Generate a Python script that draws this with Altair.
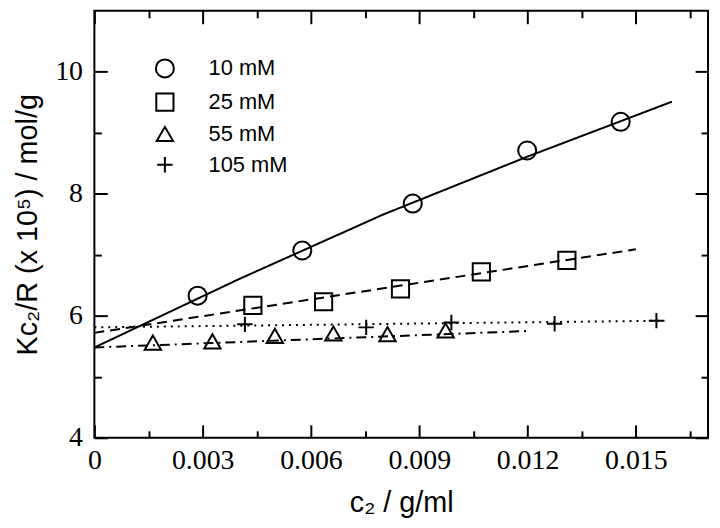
import altair as alt
import pandas as pd

# ---------------- data ----------------
series_names = ["10 mM", "25 mM", "55 mM", "105 mM"]
fit_names = ["fit 10 mM", "fit 25 mM", "fit 55 mM", "fit 105 mM"]

x_10 = [0.00286, 0.00576, 0.00882, 0.01199, 0.01458]
y_10 = [6.33, 7.07, 7.84, 8.71, 9.18]

x_25 = [0.00439, 0.00635, 0.00848, 0.01072, 0.01309]
y_25 = [6.17, 6.23, 6.44, 6.72, 6.91]

x_55 = [0.00162, 0.00327, 0.00500, 0.00662, 0.00812, 0.00973]
y_55 = [5.56, 5.58, 5.67, 5.71, 5.70, 5.76]

x_105 = [0.00417, 0.00753, 0.00989, 0.01275, 0.01557]
y_105 = [5.86, 5.81, 5.89, 5.87, 5.92]

# fitted lines (vertices)
fit_x_10 = [0.0, 0.004, 0.008, 0.012, 0.016]
fit_y_10 = [5.48, 6.60, 7.66, 8.61, 9.51]
fit_x_25 = [0.0, 0.015]
fit_y_25 = [5.72, 7.09]
fit_x_55 = [0.0, 0.012]
fit_y_55 = [5.48, 5.75]
fit_x_105 = [0.0, 0.0158]
fit_y_105 = [5.81, 5.92]

x_major = [0, 0.003, 0.006, 0.009, 0.012, 0.015]
x_minor = [0.0015, 0.0045, 0.0075, 0.0105, 0.0135, 0.0165]
y_major = [4, 6, 8, 10]
y_minor = [5, 7, 9]

x_domain = [0, 0.017]
y_domain = [4, 11]

# ---------------- tables ----------------
pts_rows = []
for name, xs, ys in zip(series_names, [x_10, x_25, x_55, x_105], [y_10, y_25, y_55, y_105]):
    for a, b in zip(xs, ys):
        pts_rows.append({"series": name, "c2": a, "kcr": b})
pts = pd.DataFrame(pts_rows)

fit_rows = []
for name, xs, ys in zip(fit_names,
                        [fit_x_10, fit_x_25, fit_x_55, fit_x_105],
                        [fit_y_10, fit_y_25, fit_y_55, fit_y_105]):
    for a, b in zip(xs, ys):
        fit_rows.append({"fit": name, "c2": a, "kcr": b})
fits = pd.DataFrame(fit_rows)

SERIF = "Liberation Serif"
SANS = "Liberation Sans"

xscale = alt.Scale(domain=x_domain, nice=False, zero=False)
yscale = alt.Scale(domain=y_domain, nice=False, zero=False)


def make_axis(orient, values, size, labels=False, **kw):
    d = dict(orient=orient, values=values, tickSize=size, offset=-size,
             domain=False, grid=False, ticks=True, tickWidth=2,
             tickColor="black", labels=labels, labelFlush=False,
             labelOverlap=False)
    if labels:
        d.update(labelFont=SERIF, labelFontSize=28, labelColor="black")
    d.update(kw)
    return alt.Axis(**d)


ax_bottom = make_axis("bottom", x_major, 13, labels=True, labelPadding=9,
                      labelExpr="datum.value == 0 ? '0' : format(datum.value, '.3f')",
                      titleFont=SANS, titleFontSize=29, titleFontWeight="normal",
                      titleColor="black", titlePadding=14)
ax_left = make_axis("left", y_major, 13, labels=True, labelPadding=12,
                    titleFont=SANS, titleFontSize=29, titleFontWeight="normal",
                    titleColor="black", titlePadding=12)
ax_top = make_axis("top", x_major, 13)
ax_right = make_axis("right", y_major, 13)
ax_bottom_minor = make_axis("bottom", x_minor, 7)
ax_left_minor = make_axis("left", y_minor, 7)
ax_top_minor = make_axis("top", x_minor, 7)
ax_right_minor = make_axis("right", y_minor, 7)

shape_range = ["circle", "square", "triangle-up", "M-1,0H1M0,-1V1"]
size_range = [330, 240, 360, 280]
dash_range = [[1, 0], [10, 6], [10, 5, 2, 5], [2, 5]]

legend_opts = dict(orient="none", legendX=60, legendY=47, title=None,
                   labelFont=SANS, labelFontSize=22, labelColor="black",
                   labelOffset=33, symbolStrokeWidth=2,
                   symbolStrokeColor="black", symbolFillColor="transparent",
                   rowPadding=7, padding=0)

points = alt.Chart(pts).mark_point(filled=False, strokeWidth=2, color="black",
                                   opacity=1).encode(
    x=alt.X("c2:Q", scale=xscale, axis=ax_bottom, title="c₂ / g/ml"),
    y=alt.Y("kcr:Q", scale=yscale, axis=ax_left, title="Kc₂/R (x 10⁵) / mol/g"),
    shape=alt.Shape("series:N", scale=alt.Scale(domain=series_names, range=shape_range),
                    legend=alt.Legend(**legend_opts)),
    size=alt.Size("series:N", scale=alt.Scale(domain=series_names, range=size_range),
                  legend=alt.Legend(**legend_opts)),
)

lines = alt.Chart(fits).mark_line(strokeWidth=2, color="black").encode(
    x=alt.X("c2:Q", scale=xscale, axis=ax_top, title=""),
    y=alt.Y("kcr:Q", scale=yscale, axis=ax_right, title=""),
    strokeDash=alt.StrokeDash("fit:N", scale=alt.Scale(domain=fit_names, range=dash_range),
                              legend=None),
    detail="fit:N",
    order="c2:Q",
)

minor1 = alt.Chart(pts).mark_point(opacity=0).encode(
    x=alt.X("c2:Q", scale=xscale, axis=ax_bottom_minor, title=""),
    y=alt.Y("kcr:Q", scale=yscale, axis=ax_left_minor, title=""),
)
minor2 = alt.Chart(pts).mark_point(opacity=0).encode(
    x=alt.X("c2:Q", scale=xscale, axis=ax_top_minor, title=""),
    y=alt.Y("kcr:Q", scale=yscale, axis=ax_right_minor, title=""),
)

chart = alt.layer(lines, points, minor1, minor2).resolve_axis(
    x="independent", y="independent"
).properties(
    width=618, height=430, autosize="none",
    padding={"left": 87, "top": 1, "right": 4, "bottom": 85},
).configure_view(stroke="black", strokeWidth=2)

chart.save("out.html", embed_options={"renderer": "svg", "actions": False})
